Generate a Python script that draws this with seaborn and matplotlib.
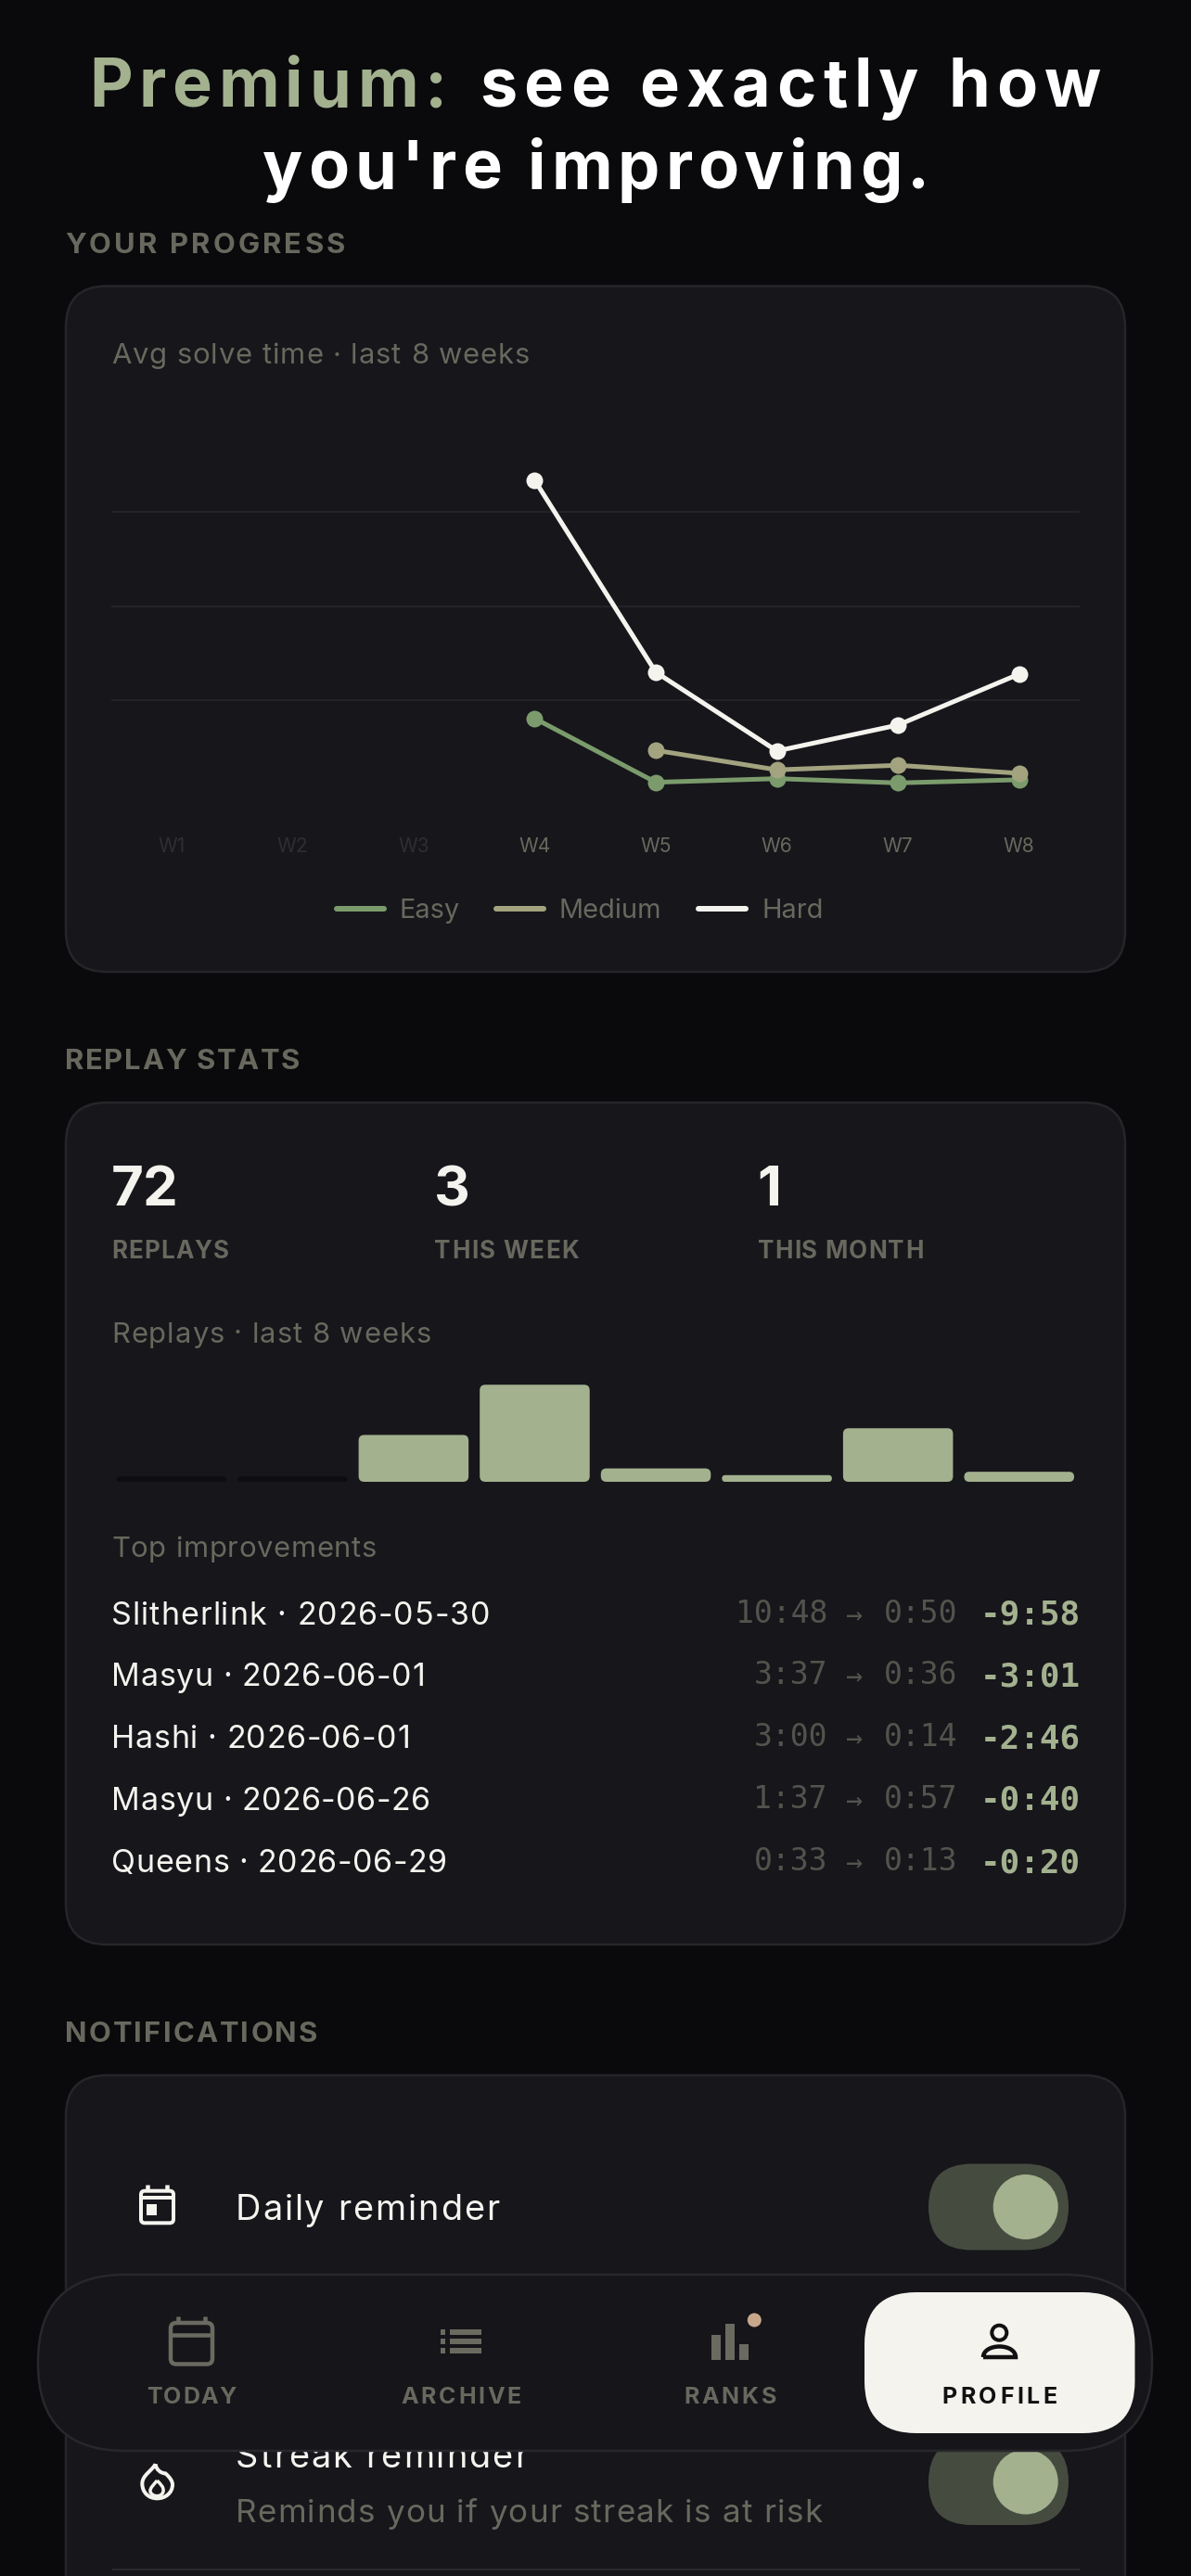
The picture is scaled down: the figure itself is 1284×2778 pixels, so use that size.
import numpy as np
import pandas as pd
import matplotlib
matplotlib.use("Agg")
import matplotlib.pyplot as plt
import seaborn as sns
from matplotlib.patches import FancyBboxPatch, Circle, PathPatch, Rectangle
from matplotlib.path import Path
from matplotlib.lines import Line2D
from matplotlib.text import Text
from matplotlib.transforms import Bbox, IdentityTransform

# ---------- data ----------
weeks = ["W1", "W2", "W3", "W4", "W5", "W6", "W7", "W8"]
easy_time = [np.nan, np.nan, np.nan, 48.5, 7.9, 10.2, 7.5, 9.5]
medium_time = [np.nan, np.nan, np.nan, np.nan, 28.2, 15.8, 18.7, 13.6]
hard_time = [np.nan, np.nan, np.nan, 199.9, 77.9, 27.8, 44.3, 76.7]
difficulties = ["Easy", "Medium", "Hard"]
grid_values = [60, 120, 180]

replays = [0, 0, 14, 29, 4, 2, 16, 3]
empty_stub = [1.6, 1.6, 0, 0, 0, 0, 0, 0]

stat_values = ["72", "3", "1"]
stat_labels = ["REPLAYS", "THIS WEEK", "THIS MONTH"]

improve_names = ["Slitherlink · 2026-05-30", "Masyu · 2026-06-01", "Hashi · 2026-06-01",
                 "Masyu · 2026-06-26", "Queens · 2026-06-29"]
improve_before = ["10:48", "3:37", "3:00", "1:37", "0:33"]
improve_after = ["0:50", "0:36", "0:14", "0:57", "0:13"]
improve_delta = ["-9:58", "-3:01", "-2:46", "-0:40", "-0:20"]

nav_labels = ["TODAY", "ARCHIVE", "RANKS", "PROFILE"]

# ---------- style ----------
BG = "#0A0A0C"; CARD = "#16161B"; EDGE = "#25252A"; DIM = "#68685E"; GRID = "#29292D"
SAGE = "#A3B18F"; WHITE = "#F5F3EE"; FAINT = "#2F2F30"; TRACK = "#454C3F"
palette = {"Easy": "#7B9B6C", "Medium": "#A3A37F", "Hard": WHITE}

sns.set_theme(style="dark")
plt.rcParams["font.family"] = ["Inter", "DejaVu Sans"]
plt.rcParams["axes.unicode_minus"] = False

W, H = 1284, 2778
fig = plt.figure(figsize=(W / 72, H / 72), dpi=72, facecolor=BG)
ax = fig.add_axes([0, 0, 1, 1], facecolor=BG, zorder=0)
ax.set_xlim(0, W); ax.set_ylim(H, 0); ax.axis("off")
rend = fig.canvas.get_renderer()


class Tracked(Text):
    """One text object whose letters are drawn with CSS-like letter spacing."""
    track = 0.0

    def _extra(self):
        return self.track * (len(self.get_text()) - 1)

    def get_window_extent(self, renderer=None, dpi=None):
        bb = super().get_window_extent(renderer, dpi)
        e = self._extra()
        k = {"left": 0, "center": 0.5, "right": 1}[self.get_ha()]
        return Bbox.from_extents(bb.x0 - k * e, bb.y0, bb.x1 + (1 - k) * e, bb.y1)

    def draw(self, renderer):
        if not self.track:
            return super().draw(renderer)
        s = self.get_text(); fp = self.get_fontproperties()
        x, y = self.get_transform().transform(self.get_position())
        width = lambda q: renderer.get_text_width_height_descent(q, fp, False)[0] if q else 0.0
        total = width(s) + self._extra()
        k = {"left": 0, "center": 0.5, "right": 1}[self.get_ha()]
        x0 = x - k * total
        for i, ch in enumerate(s):
            if ch == " ":
                continue
            g = Text(x0 + width(s[:i]) + i * self.track, y, ch, fontproperties=fp, color=self.get_color(),
                     ha="left", va="baseline", transform=IdentityTransform())
            g.set_figure(self.get_figure())
            g.draw(renderer)


def T(x, y, s, size, color, weight="normal", ha="left", w=None, family=None, z=3):
    kw = {"family": family} if family else {}
    t = Tracked(x, y, s, fontsize=size, color=color, fontweight=weight, ha=ha, va="baseline", zorder=z, **kw)
    ax.add_artist(t)
    t.set_transform(ax.transData)
    if w:
        t.track = (w - t.get_window_extent(rend).width) / (len(s) - 1)
    return t


def RR(x0, y0, x1, y1, r, fc, ec="none", lw=0, z=1):
    p = FancyBboxPatch((x0, y0), x1 - x0, y1 - y0, boxstyle=f"round,pad=0,rounding_size={r}",
                       fc=fc, ec=ec, lw=lw, zorder=z)
    ax.add_patch(p)
    return p


def L(xs, ys, color, lw=4, z=7, cap="butt"):
    ax.add_line(Line2D(xs, ys, color=color, lw=lw, zorder=z, solid_capstyle=cap, solid_joinstyle="miter"))


def inset(x0, y0, x1, y1):
    return fig.add_axes([x0 / W, 1 - y1 / H, (x1 - x0) / W, (y1 - y0) / H], facecolor="none", zorder=1)


# ---------- title ----------
T(96, 115, "Premium:", 72, SAGE, "bold", w=386)
T(517, 115, "see exactly how", 72, "#FFFFFF", "bold", w=670)
T(283, 203.6, "you're improving.", 72, "#FFFFFF", "bold", w=719)

# ---------- section heads and cards ----------
T(70, 273, "YOUR PROGRESS", 31, DIM, "bold", w=302)
T(70, 1153, "REPLAY STATS", 31, DIM, "bold", w=253)
T(70, 2202, "NOTIFICATIONS", 31, DIM, "bold", w=272)
RR(71, 308.5, 1213, 1048, 44, CARD, EDGE, 2.5)
RR(71, 1189, 1213, 2097, 44, CARD, EDGE, 2.5)
RR(71, 2238, 1213, 2900, 44, CARD, EDGE, 2.5)

# ---------- line chart ----------
T(120, 392.5, "Avg solve time · last 8 weeks", 31, DIM, w=451)
df = pd.DataFrame({
    "week": list(range(len(weeks))) * 3,
    "time": easy_time + medium_time + hard_time,
    "difficulty": [d for d in difficulties for _ in weeks],
})
lax = inset(119.5, 450, 1164, 857)
sns.lineplot(data=df, x="week", y="time", hue="difficulty", hue_order=difficulties, palette=palette,
             marker="o", markersize=18, markeredgewidth=0, linewidth=5, errorbar=None, legend=False,
             ax=lax, clip_on=False, sort=False)
lax.set_xlim(-0.5, 7.5); lax.set_ylim(0, 240)
lax.set_xlabel(""); lax.set_ylabel("")
lax.set_yticks(grid_values); lax.set_yticklabels([])
lax.set_xticks(range(len(weeks))); lax.set_xticklabels(weeks, fontsize=21)
lax.tick_params(axis="both", length=0)
lax.tick_params(axis="x", pad=46)
for i, lab in enumerate(lax.get_xticklabels()):
    lab.set_color(FAINT if i < 3 else DIM)
lax.grid(axis="y", color=GRID, lw=1.5); lax.grid(axis="x", visible=False)
lax.set_axisbelow(True)
sns.despine(ax=lax, left=True, bottom=True)
handles = [Line2D([], [], color=palette[d], lw=6, solid_capstyle="round", label=d) for d in difficulties]
leg = lax.legend(handles=handles, loc="center", bbox_to_anchor=(625, 982.5), bbox_transform=ax.transData,
                 ncol=3, frameon=False, fontsize=29, handlelength=1.76, handletextpad=0.57,
                 columnspacing=1.38, borderpad=0, borderaxespad=0, labelcolor=DIM)

# ---------- replay stats ----------
for x, v, lab, lw_ in zip([120, 468, 816.5], stat_values, stat_labels, [126, 155, 178]):
    T(x, 1300.5, v, 60, WHITE, "bold")
    T(x, 1357, lab, 26, DIM, "bold", w=lw_ + 1)
T(120, 1447.5, "Replays · last 8 weeks", 31, DIM, w=345)

bax = inset(119.5, 1480, 1164, 1598)
bar_df = pd.DataFrame({"week": weeks, "n": replays, "stub": empty_stub})
sns.barplot(data=bar_df, x="week", y="stub", color="#0E0E11", saturation=1, width=0.908, ax=bax, zorder=2)
sns.barplot(data=bar_df, x="week", y="n", color=SAGE, saturation=1, width=0.908, ax=bax, zorder=3)
bax.set_xlim(-0.5, 7.5); bax.set_ylim(0, 118 / 3.61)
bax.axis("off")
ux = 1044.5 / 8; uy = 3.61
for bar in list(bax.patches):
    x_, y_, w_, h_ = bar.get_x(), bar.get_y(), bar.get_width(), bar.get_height()
    fc = bar.get_facecolor(); zo = bar.get_zorder()
    bar.set_visible(False)
    if h_ <= 0:
        continue
    r_px = min(6.0, h_ * uy / 2)
    bax.add_patch(FancyBboxPatch((x_, y_), w_, h_, boxstyle=f"round,pad=0,rounding_size={r_px / ux}",
                                 mutation_aspect=ux / uy, fc=fc, ec="none", zorder=zo))

T(120, 1679, "Top improvements", 31, DIM, w=286)
MONO = "DejaVu Sans Mono"
row_base = [1752, 1818.5, 1885, 1952, 2019]
row_width = [408, 338, 322, 344, 362]
for y, name, wd, b, a, d in zip(row_base, improve_names, row_width, improve_before, improve_after, improve_delta):
    T(120, y, name, 34, WHITE, w=wd)
    T(892, y - 2, b, 33, "#53534D", ha="right", family=MONO)
    T(921.5, y - 2, "→", 30, "#53534D", ha="center", family=MONO)
    T(1032, y - 2, a, 33, "#53534D", ha="right", family=MONO)
    T(1164.5, y, d, 36, SAGE, "bold", ha="right", family=MONO)

# ---------- notifications ----------
T(254, 2394, "Daily reminder", 38, WHITE, w=284)
T(254, 2661, "Streak reminder", 38, WHITE, w=315, z=2)
T(254, 2720.5, "Reminds you if your streak is at risk", 35, DIM, w=632)
for top in (2333.5, 2630):
    RR(1001, top, 1152, top + 93, 46.5, TRACK, z=2)
    ax.add_patch(Circle((1105.7, top + 46.5), 35, fc=SAGE, ec="none", zorder=3))
L([121, 1164], [2771, 2771], GRID, 2, z=2)

# calendar icon (row)
RR(152, 2362.7, 187, 2397.3, 4, "none", WHITE, 4, z=3)
L([152, 187], [2369.5, 2369.5], WHITE, 4, z=3)
L([158.5, 158.5], [2355.7, 2363], WHITE, 4.5, z=3)
L([180, 180], [2355.7, 2363], WHITE, 4.5, z=3)
ax.add_patch(Rectangle((157.5, 2377), 11.5, 12, fc=WHITE, ec="none", zorder=3))

# flame icon, authored in crop units (3 per pixel) and mapped to the page
fx = lambda c: 130 + c / 3
fy = lambda c: 2640 + c / 3
flame_c = [(113, 52), (115, 70), (130, 82), (145, 82), (160, 95), (168, 108), (168, 118), (168, 145), (145, 163),
           (118, 163), (92, 163), (70, 145), (70, 115), (70, 88), (100, 75), (113, 52)]
inner_c = [(118, 105), (130, 118), (140, 125), (138, 140), (136, 152), (125, 155), (118, 155), (108, 155),
           (98, 150), (96, 140), (95, 128), (108, 118), (118, 105)]
for pts, lw_ in ((flame_c, 4), (inner_c, 3.5)):
    verts = [(fx(a), fy(b)) for a, b in pts]
    codes = [Path.MOVETO] + [Path.CURVE4] * (len(verts) - 1)
    ax.add_patch(PathPatch(Path(verts, codes), fc="none", ec=WHITE, lw=lw_, zorder=3))

# ---------- bottom nav ----------
RR(41, 2453, 1242, 2643, 94, "#15151A", "#27272C", 2.5, z=5)
RR(932, 2472, 1223.5, 2624, 56, WHITE, z=6)
for cx, lab, w_ in zip([206.5, 497, 787, 1077.5], nav_labels, [97, 130, 100, 124]):
    T(cx, 2591.7, lab, 25, "#111111" if lab == "PROFILE" else DIM, "bold", ha="center", w=w_, z=7)

ICON = "#6A6A60"
RR(184, 2505, 229, 2549.5, 6, "none", ICON, 4.5, z=7)
L([184, 229], [2518, 2518], ICON, 4.5)
L([191.7, 191.7], [2498, 2506], ICON, 4.5)
L([221, 221], [2498, 2506], ICON, 4.5)
for yy in (2515.3, 2525, 2534.7):
    L([475, 480], [yy, yy], ICON, 6)
    L([484.7, 519], [yy, yy], ICON, 6)
for xx, top in ((767.3, 2517.7), (782.3, 2505.7), (796.7, 2527.7)):
    ax.add_patch(Rectangle((xx, top), 10, 2544.7 - top, fc=ICON, ec="none", zorder=7))
ax.add_patch(Circle((813.3, 2502), 7.5, fc="#C9A88A", ec="none", zorder=7))

INK = "#111111"
ax.add_patch(Circle((1077.3, 2515.7), 8, fc="none", ec=INK, lw=4, zorder=7))
body = Path([(1060, 2542), (1060, 2535), (1068, 2530.5), (1077.5, 2530.5), (1087, 2530.5), (1095, 2535), (1095, 2542),
             (1060, 2542)],
            [Path.MOVETO, Path.CURVE4, Path.CURVE4, Path.CURVE4, Path.CURVE4, Path.CURVE4, Path.CURVE4, Path.LINETO])
ax.add_patch(PathPatch(body, fc="none", ec=INK, lw=4.5, zorder=7))

fig.savefig("out.png", dpi=72, facecolor=BG)
